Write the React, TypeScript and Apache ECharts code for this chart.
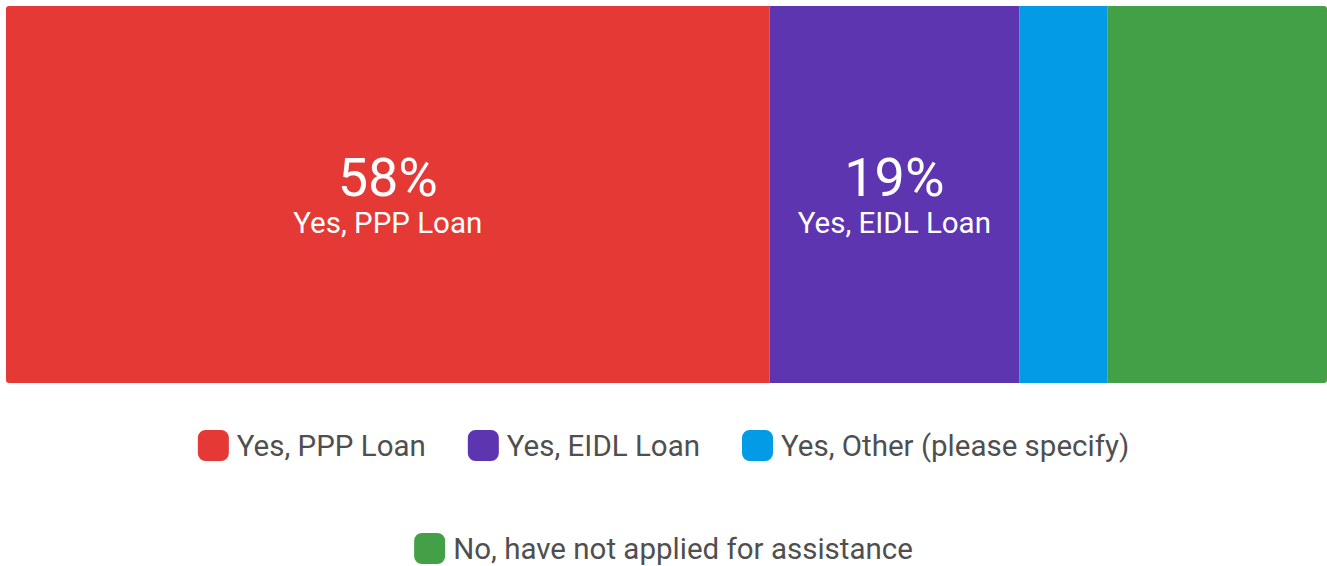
import React, { useEffect, useRef } from "react";
import * as echarts from "echarts";

const categories = ["Q"];
const seriesNames = [
  "Yes, PPP Loan",
  "Yes, EIDL Loan",
  "Yes, Other (please specify)",
  "No, have not applied for assistance",
];
const seriesValues = [57.8, 18.9, 6.7, 16.6];
const showLabel = [true, true, false, false];
const colors = ["#E53935", "#5E35B1", "#039BE5", "#43A047"];

const FONT = "Roboto";

export default function App() {
  const ref = useRef<HTMLDivElement>(null);
  useEffect(() => {
    if (!ref.current) return;
    const chart = echarts.init(ref.current, null, { renderer: "svg" });
    const last = seriesNames.length - 1;
    const legendBase = {
      left: "center",
      icon: "roundRect",
      itemWidth: 31,
      itemHeight: 31,
      itemGap: 42,
      padding: 0,
      textStyle: {
        fontFamily: FONT,
        fontSize: 29.5,
        lineHeight: 31,
        color: "#4f4f4f",
        padding: [0, 0, 0, 3],
      },
    };
    chart.setOption({
      animation: false,
      textStyle: { fontFamily: FONT },
      grid: { left: 6, top: 6, width: 1321, height: 377, containLabel: false },
      xAxis: { type: "value", min: 0, max: 100, show: false },
      yAxis: { type: "category", data: categories, show: false },
      legend: [
        { ...legendBase, data: seriesNames.slice(0, 3), top: 430 },
        { ...legendBase, data: seriesNames.slice(3), top: 533 },
      ],
      series: seriesNames.map((name, i) => ({
        name,
        type: "bar",
        stack: "total",
        barWidth: "100%",
        data: [seriesValues[i]],
        itemStyle: {
          color: colors[i],
          borderRadius: i === 0 ? [3, 0, 0, 3] : i === last ? [0, 3, 3, 0] : 0,
        },
        label: {
          show: showLabel[i],
          position: "inside",
          formatter: (p: any) => `{a|${Math.round(p.value)}%}\n{b|${p.seriesName}}`,
          rich: {
            a: { fontFamily: FONT, fontSize: 54, lineHeight: 56, color: "#fff" },
            b: { fontFamily: FONT, fontSize: 29.5, lineHeight: 34, color: "#fff" },
          },
        },
      })),
    });
    return () => chart.dispose();
  }, []);
  return (
    <div
      ref={ref}
      style={{ position: "fixed", left: 0, top: 0, width: 1327, height: 566, background: "#fff" }}
    />
  );
}
